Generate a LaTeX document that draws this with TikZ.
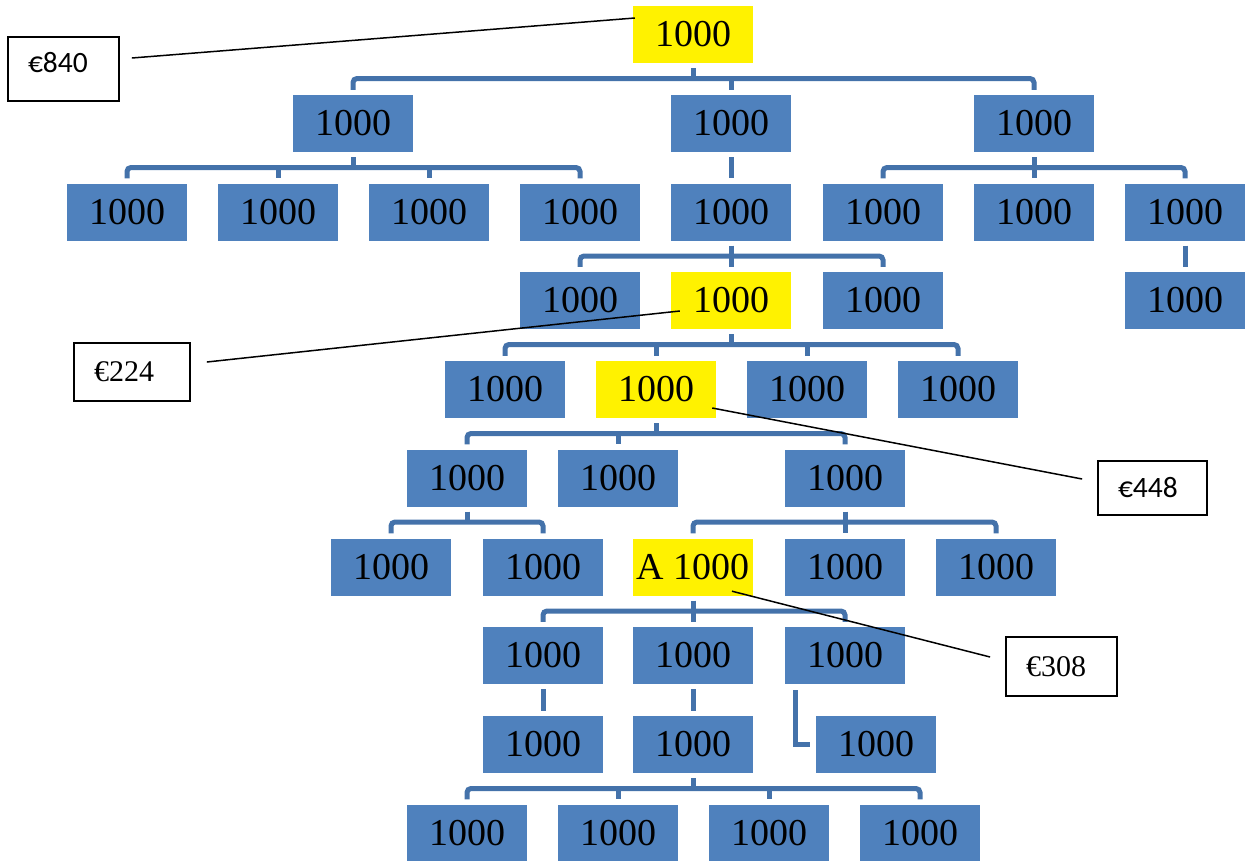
\documentclass[tikz,border=0pt]{standalone}
\usepackage{fontspec}
\setmainfont{Liberation Serif}
\newfontfamily\calib{Carlito}
\definecolor{boxblue}{RGB}{79,129,189}
\definecolor{lineblue}{RGB}{68,114,170}
\tikzset{
  bx/.style={fill=boxblue, minimum width=120pt, minimum height=57pt, inner sep=0pt, font=\fontsize{38}{40}\selectfont},
  ybx/.style={bx, fill=yellow},
  conn/.style={draw=lineblue, line width=5pt, rounded corners=4pt},
  callout/.style={draw=black, line width=1.8pt, fill=white, inner xsep=20pt, inner ysep=0pt, align=left},
  sanslbl/.style={font=\calib\fontsize{29.5}{31}\selectfont},
  seriflbl/.style={font=\fontsize{30}{32}\selectfont},
  pointer/.style={draw=black, line width=1.5pt}
}
\newcommand\famconn[4]{%
  \draw[conn] ([yshift=5pt]#3.north) -- (#3.north |- #2) -- (#4.north |- #2) -- ([yshift=5pt]#4.north);
  \draw[conn] ([yshift=-5pt]#1.south) -- (#1.south |- #2);}
\newcommand\midconn[2]{\draw[conn] (#2.north |- #1) -- ([yshift=5pt]#2.north);}
\newcommand\oneconn[2]{\draw[conn] ([yshift=-5pt]#1.south) -- ([yshift=5pt]#2.north);}
\begin{document}
\begin{tikzpicture}[x=1pt,y=-1pt]
\fill[white] (0,0) rectangle (1251,860);
\useasboundingbox (0,0) rectangle (1251,860);
% row 0
\node[ybx] (r0) at (693,34.5) {1000};
% row 1
\node[bx] (r1a) at (353,123.5) {1000};
\node[bx] (r1b) at (731,123.5) {1000};
\node[bx] (r1c) at (1034,123.5) {1000};
% row 2
\node[bx] (r2a) at (127,212) {1000};
\node[bx] (r2b) at (278,212) {1000};
\node[bx] (r2c) at (429,212) {1000};
\node[bx] (r2d) at (580,212) {1000};
\node[bx] (r2e) at (731,212) {1000};
\node[bx] (r2f) at (883,212) {1000};
\node[bx] (r2g) at (1034,212) {1000};
\node[bx] (r2h) at (1185,212) {1000};
% row 3
\node[bx] (r3a) at (580,300.5) {1000};
\node[ybx] (r3b) at (731,300.5) {1000};
\node[bx] (r3c) at (883,300.5) {1000};
\node[bx] (r3d) at (1185,300.5) {1000};
% row 4
\node[bx] (r4a) at (505,389.5) {1000};
\node[ybx] (r4b) at (656,389.5) {1000};
\node[bx] (r4c) at (807,389.5) {1000};
\node[bx] (r4d) at (958,389.5) {1000};
% row 5
\node[bx] (r5a) at (467,478) {1000};
\node[bx] (r5b) at (618,478) {1000};
\node[bx] (r5c) at (845,478) {1000};
% row 6
\node[bx] (r6a) at (391,567) {1000};
\node[bx] (r6b) at (543,567) {1000};
\node[ybx] (r6c) at (693,567) {A 1000};
\node[bx] (r6d) at (845,567) {1000};
\node[bx] (r6e) at (996,567) {1000};
% row 7
\node[bx] (r7a) at (543,655.5) {1000};
\node[bx] (r7b) at (693,655.5) {1000};
\node[bx] (r7c) at (845,655.5) {1000};
% row 8
\node[bx] (r8a) at (543,744.5) {1000};
\node[bx] (r8b) at (693,744.5) {1000};
\node[bx] (r8c) at (876,744.5) {1000};
% row 9
\node[bx] (r9a) at (467,833) {1000};
\node[bx] (r9b) at (618,833) {1000};
\node[bx] (r9c) at (769,833) {1000};
\node[bx] (r9d) at (920,833) {1000};
% bar levels
\coordinate (b0) at (0,78.5);
\coordinate (b1) at (0,167.5);
\coordinate (b2) at (0,256);
\coordinate (b3) at (0,344.5);
\coordinate (b4) at (0,433.5);
\coordinate (b5) at (0,522);
\coordinate (b6) at (0,611);
\coordinate (b8) at (0,788.5);
% connectors
\famconn{r0}{b0}{r1a}{r1c} \midconn{b0}{r1b}
\famconn{r1a}{b1}{r2a}{r2d} \midconn{b1}{r2b} \midconn{b1}{r2c}
\oneconn{r1b}{r2e}
\famconn{r1c}{b1}{r2f}{r2h} \midconn{b1}{r2g}
\famconn{r2e}{b2}{r3a}{r3c} \midconn{b2}{r3b}
\oneconn{r2h}{r3d}
\famconn{r3b}{b3}{r4a}{r4d} \midconn{b3}{r4b} \midconn{b3}{r4c}
\famconn{r4b}{b4}{r5a}{r5c} \midconn{b4}{r5b}
\famconn{r5a}{b5}{r6a}{r6b}
\famconn{r5c}{b5}{r6c}{r6e} \midconn{b5}{r6d}
\famconn{r6c}{b6}{r7a}{r7c} \midconn{b6}{r7b}
\oneconn{r7a}{r8a}
\oneconn{r7b}{r8b}
\draw[conn, rounded corners=0pt] ([xshift=11pt,yshift=-6pt]r7c.south west) |- ([xshift=-6pt]r8c.west);
\famconn{r8b}{b8}{r9a}{r9d} \midconn{b8}{r9b} \midconn{b8}{r9c}
% callouts
\node[callout, sanslbl, text width=71pt, minimum height=64pt] (l840) at (63.5,69) {\raisebox{6pt}[\height][\depth]{€840}};
\node[callout, seriflbl, text width=76pt, minimum height=58pt] (l224) at (132,372) {€224};
\node[callout, sanslbl, text width=69pt, minimum height=54pt] (l448) at (1152.5,488) {€448};
\node[callout, seriflbl, text width=71pt, minimum height=59pt] (l308) at (1061.5,666.5) {€308};
\draw[pointer] ([xshift=12pt,yshift=11pt]l840.east) -- ([xshift=2pt,yshift=16.5pt]r0.west);
\draw[pointer] ([xshift=16pt,yshift=10pt]l224.east) -- ([xshift=9pt,yshift=-10.5pt]r3b.west);
\draw[pointer] ([xshift=-4pt,yshift=-18.5pt]r4b.east) -- ([xshift=-15pt,yshift=9pt]l448.west);
\draw[pointer] ([xshift=39pt,yshift=4.5pt]r6c.south) -- ([xshift=-15pt,yshift=9.5pt]l308.west);
\end{tikzpicture}
\end{document}
